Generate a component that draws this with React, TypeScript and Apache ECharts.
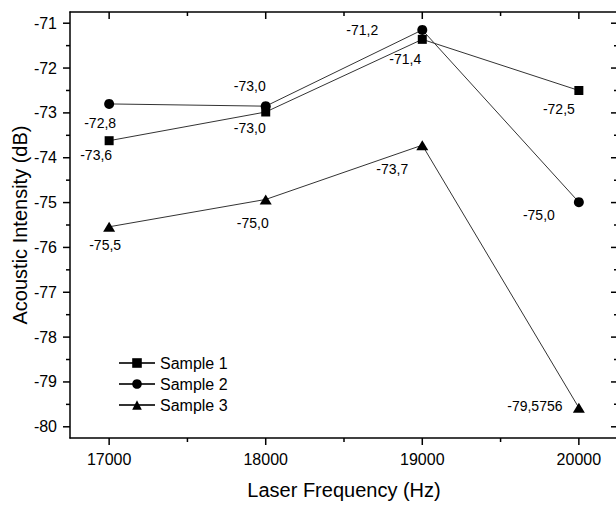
import React, { useEffect, useRef } from "react";
import * as echarts from "echarts";

const frequencies = [17000, 18000, 19000, 20000];
const sample1 = [-73.62, -72.98, -71.36, -72.5];
const sample2 = [-72.8, -72.85, -71.15, -74.99];
const sample3 = [-75.54, -74.93, -73.72, -79.5756];
const labels1 = ["-73,6", "-73,0", "-71,4", "-72,5"];
const labels2 = ["-72,8", "-73,0", "-71,2", "-75,0"];
const labels3 = ["-75,5", "-75,0", "-73,7", "-79,5756"];
const seriesNames = ["Sample 1", "Sample 2", "Sample 3"];
const xMajorTicks = [17000, 18000, 19000, 20000];
const xMinorTicks = [17500, 18500, 19500];
const yMajorTicks = [-80, -79, -78, -77, -76, -75, -74, -73, -72, -71];
const yMinorTicks = [-79.5, -78.5, -77.5, -76.5, -75.5, -74.5, -73.5, -72.5, -71.5];

// label placement offsets (px) relative to each marker
const offsets1 = [[-13, 14], [-16, 16], [-17, 20], [-20, 19]];
const offsets2 = [[-9, 19], [-16, -20], [-60, 0], [-40, 13]];
const offsets3 = [[-4, 18], [-13, 24], [-30, 24], [-44, -2]];

const FONT = "'Liberation Sans', Arial, sans-serif";
const X_MIN = 16750;
const X_MAX = 20250;
const Y_MIN = -80.25;
const Y_MAX = -70.75;

function buildData(values: number[], texts: string[], offs: number[][]) {
  return values.map((v, i) => ({
    value: [frequencies[i], v],
    label: {
      show: true,
      formatter: texts[i],
      position: "inside",
      offset: offs[i],
      color: "#000",
      fontSize: 14,
      fontFamily: FONT,
    },
  }));
}

export default function App() {
  const ref = useRef<HTMLDivElement>(null);
  useEffect(() => {
    if (!ref.current) return;
    const chart = echarts.init(ref.current, null, { renderer: "svg" });
    const lineAxis = { show: true, onZero: false, lineStyle: { color: "#000", width: 1.5 } };
    const seriesCommon = {
      type: "line",
      xAxisIndex: 0,
      yAxisIndex: 0,
      itemStyle: { color: "#000" },
      lineStyle: { color: "#333", width: 1 },
      emphasis: { disabled: true },
    };
    const MAJOR = 7;
    const MINOR = 4;
    chart.setOption({
      animation: false,
      grid: { left: 70, top: 12, right: -2, bottom: 69, containLabel: false, outerBoundsMode: "none" },
      legend: {
        orient: "vertical",
        left: 113,
        top: 350,
        itemWidth: 36,
        itemHeight: 12,
        itemGap: 5,
        textStyle: { fontSize: 16, color: "#000", fontFamily: FONT, lineHeight: 16 },
        data: seriesNames,
      },
      xAxis: [
        {
          type: "value",
          position: "bottom",
          min: X_MIN,
          max: X_MAX,
          splitLine: { show: false },
          axisLine: lineAxis,
          axisTick: { show: false },
          name: "Laser Frequency (Hz)",
          nameLocation: "middle",
          nameGap: 42,
          nameMoveOverlap: false,
          nameTextStyle: { fontSize: 20, color: "#000", fontFamily: FONT },
          axisLabel: {
            show: true,
            customValues: xMajorTicks,
            formatter: (v: number) => String(v),
            fontSize: 16,
            color: "#000",
            fontFamily: FONT,
            margin: 13,
          },
        },
        {
          type: "value",
          position: "top",
          min: X_MIN,
          max: X_MAX,
          splitLine: { show: false },
          axisLine: lineAxis,
          axisTick: { show: false },
          axisLabel: { show: false },
        },
      ],
      yAxis: [
        {
          type: "value",
          position: "left",
          min: Y_MIN,
          max: Y_MAX,
          splitLine: { show: false },
          axisLine: lineAxis,
          axisTick: { show: false },
          name: "Acoustic Intensity (dB)",
          nameLocation: "middle",
          nameGap: 40,
          nameMoveOverlap: false,
          nameTextStyle: { fontSize: 20, color: "#000", fontFamily: FONT },
          axisLabel: {
            show: true,
            customValues: yMajorTicks,
            formatter: (v: number) => String(v),
            fontSize: 16,
            color: "#000",
            fontFamily: FONT,
            margin: 13,
          },
        },
        {
          type: "value",
          position: "right",
          min: Y_MIN,
          max: Y_MAX,
          splitLine: { show: false },
          axisLine: lineAxis,
          axisTick: { show: false },
          axisLabel: { show: false },
        },
      ],
      series: [
        { ...seriesCommon, name: seriesNames[0], symbol: "rect", symbolSize: 9, data: buildData(sample1, labels1, offsets1) },
        { ...seriesCommon, name: seriesNames[1], symbol: "circle", symbolSize: 10, data: buildData(sample2, labels2, offsets2) },
        { ...seriesCommon, name: seriesNames[2], symbol: "triangle", symbolSize: [12, 10], data: buildData(sample3, labels3, offsets3) },
        {
          type: "custom",
          name: "ticks",
          xAxisIndex: 0,
          yAxisIndex: 0,
          silent: true,
          clip: false,
          z: 10,
          data: [[X_MIN, Y_MIN]],
          renderItem: (_params: any, api: any) => {
            const children: any[] = [];
            const st = { stroke: "#000", lineWidth: 1.5 };
            const addX = (vals: number[], len: number) =>
              vals.forEach((v) => {
                const b = api.coord([v, Y_MIN]);
                const t = api.coord([v, Y_MAX]);
                children.push({ type: "line", shape: { x1: b[0], y1: b[1], x2: b[0], y2: b[1] + len }, style: st });
                children.push({ type: "line", shape: { x1: t[0], y1: t[1], x2: t[0], y2: t[1] + len }, style: st });
              });
            const addY = (vals: number[], len: number) =>
              vals.forEach((v) => {
                const l = api.coord([X_MIN, v]);
                const r = api.coord([X_MAX, v]);
                children.push({ type: "line", shape: { x1: l[0], y1: l[1], x2: l[0] - len, y2: l[1] }, style: st });
                children.push({ type: "line", shape: { x1: r[0], y1: r[1], x2: r[0] - len, y2: r[1] }, style: st });
              });
            addX(xMajorTicks, MAJOR);
            addX(xMinorTicks, MINOR);
            addY(yMajorTicks, MAJOR);
            addY(yMinorTicks, MINOR);
            return { type: "group", children };
          },
        },
      ],
    });
    return () => chart.dispose();
  }, []);
  return (
    <div
      ref={ref}
      style={{ position: "fixed", left: 0, top: 0, width: 616, height: 507, background: "#fff" }}
    />
  );
}
